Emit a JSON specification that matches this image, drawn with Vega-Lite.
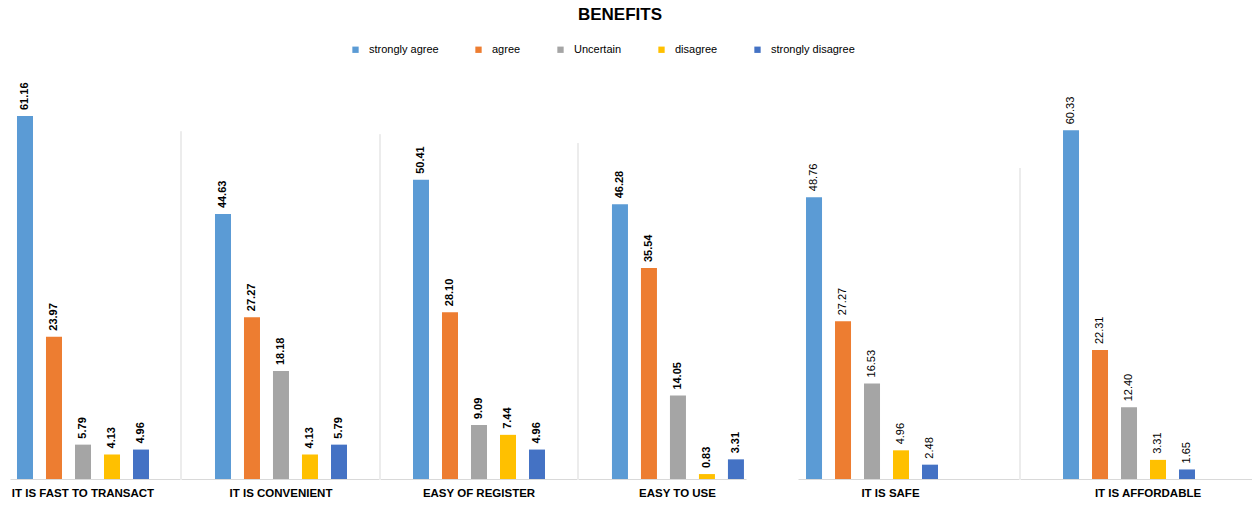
{
  "$schema": "https://vega.github.io/schema/vega-lite/v6.json",
  "padding": {"left": 10, "top": 6, "right": 0, "bottom": 0},
  "title": {"text": "BENEFITS", "anchor": "middle", "fontSize": 17, "fontWeight": "bold", "font": "Liberation Sans", "color": "#000000", "offset": 20, "dx": -13},
  "datasets": {
    "d": [
      {"category": "IT IS FAST TO TRANSACT", "series": "strongly agree", "value": 61.16},
      {"category": "IT IS FAST TO TRANSACT", "series": "agree", "value": 23.97},
      {"category": "IT IS FAST TO TRANSACT", "series": "Uncertain", "value": 5.79},
      {"category": "IT IS FAST TO TRANSACT", "series": "disagree", "value": 4.13},
      {"category": "IT IS FAST TO TRANSACT", "series": "strongly disagree", "value": 4.96},
      {"category": "IT IS CONVENIENT", "series": "strongly agree", "value": 44.63},
      {"category": "IT IS CONVENIENT", "series": "agree", "value": 27.27},
      {"category": "IT IS CONVENIENT", "series": "Uncertain", "value": 18.18},
      {"category": "IT IS CONVENIENT", "series": "disagree", "value": 4.13},
      {"category": "IT IS CONVENIENT", "series": "strongly disagree", "value": 5.79},
      {"category": "EASY OF REGISTER", "series": "strongly agree", "value": 50.41},
      {"category": "EASY OF REGISTER", "series": "agree", "value": 28.10},
      {"category": "EASY OF REGISTER", "series": "Uncertain", "value": 9.09},
      {"category": "EASY OF REGISTER", "series": "disagree", "value": 7.44},
      {"category": "EASY OF REGISTER", "series": "strongly disagree", "value": 4.96},
      {"category": "EASY TO USE", "series": "strongly agree", "value": 46.28},
      {"category": "EASY TO USE", "series": "agree", "value": 35.54},
      {"category": "EASY TO USE", "series": "Uncertain", "value": 14.05},
      {"category": "EASY TO USE", "series": "disagree", "value": 0.83},
      {"category": "EASY TO USE", "series": "strongly disagree", "value": 3.31},
      {"category": "IT IS SAFE", "series": "strongly agree", "value": 48.76},
      {"category": "IT IS SAFE", "series": "agree", "value": 27.27},
      {"category": "IT IS SAFE", "series": "Uncertain", "value": 16.53},
      {"category": "IT IS SAFE", "series": "disagree", "value": 4.96},
      {"category": "IT IS SAFE", "series": "strongly disagree", "value": 2.48},
      {"category": "IT IS AFFORDABLE", "series": "strongly agree", "value": 60.33},
      {"category": "IT IS AFFORDABLE", "series": "agree", "value": 22.31},
      {"category": "IT IS AFFORDABLE", "series": "Uncertain", "value": 12.40},
      {"category": "IT IS AFFORDABLE", "series": "disagree", "value": 3.31},
      {"category": "IT IS AFFORDABLE", "series": "strongly disagree", "value": 1.65}
    ],
    "sep": [
      {"category": "IT IS CONVENIENT", "top": 58.6},
      {"category": "EASY OF REGISTER", "top": 58.1},
      {"category": "EASY TO USE", "top": 56.6},
      {"category": "IT IS AFFORDABLE", "top": 53.8}
    ]
  },
  "spacing": 52,
  "hconcat": [
    {
      "spacing": 0,
      "hconcat": [
        {
          "width": 170, "height": 377,
          "data": {"name": "d"},
          "transform": [{"filter": "datum.category === 'IT IS FAST TO TRANSACT'"}],
          "encoding": {
            "x": {"field": "category", "type": "nominal", "scale": {"paddingInner": 0, "paddingOuter": 0.144, "align": 0.184}, "axis": {"title": null, "labelAngle": 0, "ticks": false, "labelPadding": 8, "labelFontSize": 11.5, "labelFontWeight": "bold", "labelColor": "#000000", "domainColor": "#d9d9d9"}},
            "xOffset": {"field": "series", "type": "nominal", "sort": ["strongly agree", "agree", "Uncertain", "disagree", "strongly disagree"], "scale": {"paddingInner": 0.448, "paddingOuter": 0}},
            "y": {"field": "value", "type": "quantitative", "scale": {"domain": [0, 63.52], "nice": false}, "axis": null}
          },
          "layer": [
            {"mark": {"type": "bar"}, "encoding": {"color": {"field": "series", "type": "nominal", "sort": ["strongly agree", "agree", "Uncertain", "disagree", "strongly disagree"], "scale": {"domain": ["strongly agree", "agree", "Uncertain", "disagree", "strongly disagree"], "range": ["#5B9BD5", "#ED7D31", "#A5A5A5", "#FFC000", "#4472C4"]}, "legend": {"orient": "none", "legendX": 340, "legendY": -58, "direction": "horizontal", "columns": 5, "title": null, "symbolType": "square", "symbolSize": 40, "symbolStrokeWidth": 0, "labelFontSize": 11, "labelColor": "#000000", "columnPadding": 34, "labelOffset": 8, "padding": 0}}}},
            {"mark": {"type": "text", "angle": 270, "align": "left", "baseline": "middle", "dx": 6, "fontSize": 11, "fontWeight": "bold", "color": "#000000"}, "encoding": {"text": {"field": "value", "type": "quantitative", "format": ".2f"}}}
          ]
        },
        {
          "width": 198, "height": 377,
          "layer": [
            {"data": {"name": "sep"}, "transform": [{"filter": "datum.category === 'IT IS CONVENIENT'"}], "mark": {"type": "rule", "color": "#d9d9d9", "strokeWidth": 1}, "encoding": {"x": {"datum": 0, "type": "quantitative", "scale": {"domain": [0, 1]}, "axis": null}, "y": {"field": "top", "type": "quantitative", "scale": {"domain": [0, 63.52], "nice": false}, "axis": null}, "y2": {"datum": 0}}},
            {
              "data": {"name": "d"},
              "transform": [{"filter": "datum.category === 'IT IS CONVENIENT'"}],
              "encoding": {
                "x": {"field": "category", "type": "nominal", "scale": {"paddingInner": 0, "paddingOuter": 0.25, "align": 0.515}, "axis": {"title": null, "labelAngle": 0, "ticks": false, "labelPadding": 8, "labelFontSize": 11.5, "labelFontWeight": "bold", "labelColor": "#000000", "domainColor": "#d9d9d9"}},
                "xOffset": {"field": "series", "type": "nominal", "sort": ["strongly agree", "agree", "Uncertain", "disagree", "strongly disagree"], "scale": {"paddingInner": 0.448, "paddingOuter": 0}},
                "y": {"field": "value", "type": "quantitative", "scale": {"domain": [0, 63.52], "nice": false}, "axis": null}
              },
              "layer": [
                {"mark": {"type": "bar"}, "encoding": {"color": {"field": "series", "type": "nominal", "legend": null}}},
                {"mark": {"type": "text", "angle": 270, "align": "left", "baseline": "middle", "dx": 6, "fontSize": 11, "fontWeight": "bold", "color": "#000000"}, "encoding": {"text": {"field": "value", "type": "quantitative", "format": ".2f"}}}
              ]
            }
          ],
          "resolve": {"scale": {"x": "independent"}, "axis": {"x": "independent"}}
        },
        {
          "width": 197, "height": 377,
          "layer": [
            {"data": {"name": "sep"}, "transform": [{"filter": "datum.category === 'EASY OF REGISTER'"}], "mark": {"type": "rule", "color": "#d9d9d9", "strokeWidth": 1}, "encoding": {"x": {"datum": 0, "type": "quantitative", "scale": {"domain": [0, 1]}, "axis": null}, "y": {"field": "top", "type": "quantitative", "scale": {"domain": [0, 63.52], "nice": false}, "axis": null}, "y2": {"datum": 0}}},
            {
              "data": {"name": "d"},
              "transform": [{"filter": "datum.category === 'EASY OF REGISTER'"}],
              "encoding": {
                "x": {"field": "category", "type": "nominal", "scale": {"paddingInner": 0, "paddingOuter": 0.246, "align": 0.508}, "axis": {"title": null, "labelAngle": 0, "ticks": false, "labelPadding": 8, "labelFontSize": 11.5, "labelFontWeight": "bold", "labelColor": "#000000", "domainColor": "#d9d9d9"}},
                "xOffset": {"field": "series", "type": "nominal", "sort": ["strongly agree", "agree", "Uncertain", "disagree", "strongly disagree"], "scale": {"paddingInner": 0.448, "paddingOuter": 0}},
                "y": {"field": "value", "type": "quantitative", "scale": {"domain": [0, 63.52], "nice": false}, "axis": null}
              },
              "layer": [
                {"mark": {"type": "bar"}, "encoding": {"color": {"field": "series", "type": "nominal", "legend": null}}},
                {"mark": {"type": "text", "angle": 270, "align": "left", "baseline": "middle", "dx": 6, "fontSize": 11, "fontWeight": "bold", "color": "#000000"}, "encoding": {"text": {"field": "value", "type": "quantitative", "format": ".2f"}}}
              ]
            }
          ],
          "resolve": {"scale": {"x": "independent"}, "axis": {"x": "independent"}}
        },
        {
          "width": 168, "height": 377,
          "layer": [
            {"data": {"name": "sep"}, "transform": [{"filter": "datum.category === 'EASY TO USE'"}], "mark": {"type": "rule", "color": "#d9d9d9", "strokeWidth": 1}, "encoding": {"x": {"datum": 0, "type": "quantitative", "scale": {"domain": [0, 1]}, "axis": null}, "y": {"field": "top", "type": "quantitative", "scale": {"domain": [0, 63.52], "nice": false}, "axis": null}, "y2": {"datum": 0}}},
            {
              "data": {"name": "d"},
              "transform": [{"filter": "datum.category === 'EASY TO USE'"}],
              "encoding": {
                "x": {"field": "category", "type": "nominal", "scale": {"paddingInner": 0, "paddingOuter": 0.141, "align": 0.919}, "axis": {"title": null, "labelAngle": 0, "ticks": false, "labelPadding": 8, "labelFontSize": 11.5, "labelFontWeight": "bold", "labelColor": "#000000", "domainColor": "#d9d9d9"}},
                "xOffset": {"field": "series", "type": "nominal", "sort": ["strongly agree", "agree", "Uncertain", "disagree", "strongly disagree"], "scale": {"paddingInner": 0.448, "paddingOuter": 0}},
                "y": {"field": "value", "type": "quantitative", "scale": {"domain": [0, 63.52], "nice": false}, "axis": null}
              },
              "layer": [
                {"mark": {"type": "bar"}, "encoding": {"color": {"field": "series", "type": "nominal", "legend": null}}},
                {"mark": {"type": "text", "angle": 270, "align": "left", "baseline": "middle", "dx": 6, "fontSize": 11, "fontWeight": "bold", "color": "#000000"}, "encoding": {"text": {"field": "value", "type": "quantitative", "format": ".2f"}}}
              ]
            }
          ],
          "resolve": {"scale": {"x": "independent"}, "axis": {"x": "independent"}}
        }
      ]
    },
    {
      "spacing": 0,
      "hconcat": [
        {
          "width": 221, "height": 377,
          "data": {"name": "d"},
          "transform": [{"filter": "datum.category === 'IT IS SAFE'"}],
          "encoding": {
            "x": {"field": "category", "type": "nominal", "scale": {"paddingInner": 0, "paddingOuter": 0.154, "align": 0.154}, "axis": {"title": null, "labelAngle": 0, "ticks": false, "labelPadding": 8, "labelFontSize": 11.5, "labelFontWeight": "bold", "labelColor": "#000000", "domainColor": "#d9d9d9"}},
            "xOffset": {"field": "series", "type": "nominal", "sort": ["strongly agree", "agree", "Uncertain", "disagree", "strongly disagree"], "scale": {"paddingInner": 0.476, "paddingOuter": 0}},
            "y": {"field": "value", "type": "quantitative", "scale": {"domain": [0, 65.22], "nice": false}, "axis": null}
          },
          "layer": [
            {"mark": {"type": "bar"}, "encoding": {"color": {"field": "series", "type": "nominal", "legend": null}}},
            {"mark": {"type": "text", "angle": 270, "align": "left", "baseline": "middle", "dx": 6, "fontSize": 11, "fontWeight": "normal", "color": "#000000"}, "encoding": {"text": {"field": "value", "type": "quantitative", "format": ".2f"}}}
          ]
        },
        {
          "width": 236, "height": 377,
          "layer": [
            {"data": {"name": "sep"}, "transform": [{"filter": "datum.category === 'IT IS AFFORDABLE'"}], "mark": {"type": "rule", "color": "#d9d9d9", "strokeWidth": 1}, "encoding": {"x": {"datum": 0, "type": "quantitative", "scale": {"domain": [0, 1]}, "axis": null}, "y": {"field": "top", "type": "quantitative", "scale": {"domain": [0, 65.22], "nice": false}, "axis": null}, "y2": {"datum": 0}}},
            {
              "data": {"name": "d"},
              "transform": [{"filter": "datum.category === 'IT IS AFFORDABLE'"}],
              "encoding": {
                "x": {"field": "category", "type": "nominal", "scale": {"paddingInner": 0, "paddingOuter": 0.194, "align": 0.652}, "axis": {"title": null, "labelAngle": 0, "ticks": false, "labelPadding": 8, "labelFontSize": 11.5, "labelFontWeight": "bold", "labelColor": "#000000", "domainColor": "#d9d9d9"}},
                "xOffset": {"field": "series", "type": "nominal", "sort": ["strongly agree", "agree", "Uncertain", "disagree", "strongly disagree"], "scale": {"paddingInner": 0.476, "paddingOuter": 0}},
                "y": {"field": "value", "type": "quantitative", "scale": {"domain": [0, 65.22], "nice": false}, "axis": null}
              },
              "layer": [
                {"mark": {"type": "bar"}, "encoding": {"color": {"field": "series", "type": "nominal", "legend": null}}},
                {"mark": {"type": "text", "angle": 270, "align": "left", "baseline": "middle", "dx": 6, "fontSize": 11, "fontWeight": "normal", "color": "#000000"}, "encoding": {"text": {"field": "value", "type": "quantitative", "format": ".2f"}}}
              ]
            }
          ],
          "resolve": {"scale": {"x": "independent"}, "axis": {"x": "independent"}}
        }
      ]
    }
  ],
  "config": {
    "view": {"stroke": null},
    "font": "Liberation Sans",
    "axis": {"grid": false}
  }
}
